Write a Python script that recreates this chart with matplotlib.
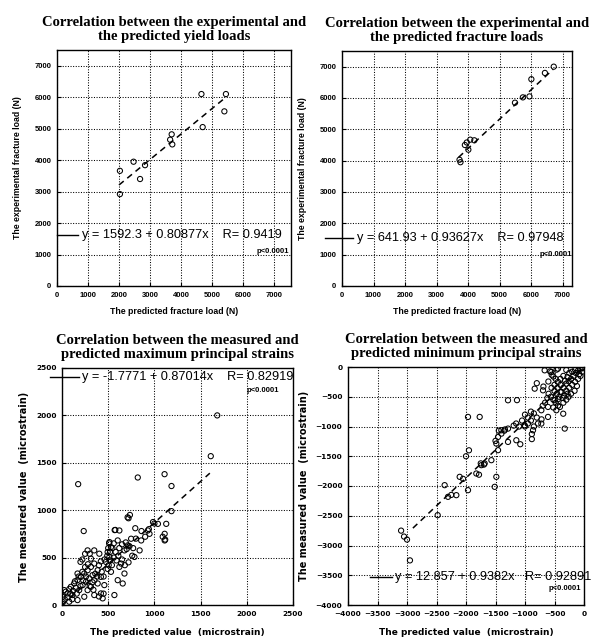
import matplotlib
matplotlib.use("Agg")
import matplotlib.pyplot as plt
from matplotlib.lines import Line2D
from matplotlib.font_manager import FontProperties

W, H = 591, 639

# ---- data ----
# yield loads (N)
yield_pred = [2030, 2030, 2470, 2680, 2840, 3700, 3720, 3650, 4660, 4700, 5450, 5400]
yield_exp = [3660, 2920, 3950, 3400, 3840, 4820, 4500, 4650, 6100, 5050, 6100, 5550]
yield_fit = (1592.3, 0.80877)

# fracture loads (N)
frac_pred = [3730, 3760, 3960, 4010, 4070, 4200, 3900, 5490, 5740, 5950, 6010, 6440, 6720]
frac_exp = [4030, 3950, 4580, 4350, 4670, 4650, 4500, 5850, 6020, 6050, 6600, 6800, 7000]
frac_fit = (641.93, 0.93627)

# maximum principal strains (microstrain)
max_pred = [1680, 1610, 1110, 820, 175, 1185, 1185, 710, 985, 1038, 1128, 929, 1111, 1111,
            947, 857, 840, 784, 748, 712, 676, 603, 570, 621, 235, 513, 530, 494, 513, 476,
            621, 639, 676, 603, 657, 567, 440, 458, 421, 386, 349, 277, 313, 200, 404,
            24, 60, 96, 132, 168, 205, 241, 277, 313, 349, 223, 259, 295, 331, 186, 114, 5,
            168, 277, 313, 386, 421, 241, 168, 78, 349,
            500, 510, 490, 520, 505, 495, 530, 560, 580, 620, 650, 690, 700, 730, 770, 800,
            900, 940, 1000, 1090, 1117, 860, 720, 735, 577, 793, 450, 430, 380, 350, 330, 260,
            230, 200, 150, 120, 90, 60, 30, 10, 40, 80, 110, 140, 160, 180, 220, 250, 280, 300,
            340, 360, 400, 420, 460, 540, 590, 610, 650, 680, 720, 760, 450, 400, 520, 545, 560,
            250, 300, 220]
max_meas = [2000, 1570, 1380, 1345, 1275, 1255, 990, 925, 875, 856, 856, 786, 751, 681,
            751, 681, 576, 507, 699, 629, 576, 681, 790, 786, 780, 664, 611, 559, 507, 454,
            402, 437, 332, 262, 227, 105, 70, 210, 297, 367, 576, 576, 489, 455, 541,
            157, 122, 192, 227, 262, 297, 332, 367, 402, 437, 210, 245, 280, 315, 157, 105, 87,
            332, 157, 192, 227, 122, 87, 52, 35, 105,
            600, 650, 520, 470, 420, 380, 350, 500, 560, 600, 640, 660, 590, 620, 600, 700,
            720, 800, 860, 720, 690, 780, 915, 950, 792, 810, 300, 350, 300, 260, 240, 300,
            260, 200, 180, 150, 120, 80, 60, 30, 140, 170, 60, 250, 120, 300, 350, 400, 430, 200,
            160, 330, 420, 460, 480, 420, 470, 520, 480, 420, 450, 520, 120, 90, 560, 600, 650,
            540, 540, 480]
max_fit = (-1.7771, 0.87014)

# minimum principal strains (microstrain)
min_pred = [-3100, -3050, -3000, -2950, -2480, -2305, -2250, -2164, -2362, -1966, -2107, -2050,
            -1825, -1780, -1684, -1740, -1570, -1486, -1514, -1457, -1486, -1457, -1401, -1340,
            -1288, -1288, -1147, -1966, -1768, -2000, -1950, -1288,
            -1136, -1006, -950, -864, -884, -884, -723, -610, -723, -610, -497, -327, -469, -408,
            -352, -836, -800, -688, -695,
            -1192, -1444, -1400, -1350, -1500, -1080, -1696, -1750,
            -1000, -950, -900, -1050, -850, -800, -780, -720, -900, -1100, -1150, -1000, -850,
            -667, -554, -441, -604, -548, -576, -464, -300, -520, -480, -440, -400, -350, -300,
            -260, -220, -180, -140, -100, -60, -500, -460, -420, -380, -340, -300, -520, -480,
            -440, -250, -200, -150, -100, -120, -60, -30, -20, -80, -160, -220, -260, -300, -350,
            -400, -350, -250, -200, -150, -550, -500, -450, -400, -320, -280, -600, -560, -620,
            -660, -700, -520, -440, -360, -280]
min_meas = [-2750, -2850, -2900, -3250, -2490, -2182, -2150, -2154, -1986, -2070, -1846, -1880,
            -1790, -1810, -1622, -1650, -1566, -1846, -2014, -1398, -1287, -1175, -1063, -1050,
            -1035, -1259, -1231, -839, -839, -1500, -1400, -559,
            -557, -979, -950, -1063, -1127, -1212, -951, -839, -727, -671, -559, -1035, -727, -671,
            -785, -364, -272, -329, -392,
            -985, -1070, -1120, -1070, -1241, -1298, -1640, -1620,
            -800, -850, -900, -900, -780, -850, -950, -880, -750, -1000, -950, -1000, -1000,
            -56, -84, -28, -244, -130, -73, -44, -50, -160, -200, -250, -300, -350, -280,
            -240, -200, -150, -100, -60, -30, -400, -450, -500, -420, -480, -400, -550, -600,
            -650, -350, -300, -250, -200, -320, -150, -80, -20, -120, -400, -450, -500, -550, -600,
            -200, -150, -100, -80, -50, -350, -300, -350, -420, -230, -170, -450, -500, -520,
            -600, -650, -680, -540, -520, -450]
min_fit = (12.857, 0.9382)

panels = [
    dict(rect=(57, 50, 291, 286), x=yield_pred, y=yield_exp, fit=yield_fit, fitx=(2000, 5400),
         xlim=(0, 7550), ylim=(0, 7500), ticks=range(0, 7001, 1000),
         title="Correlation between the experimental and\nthe predicted yield loads",
         xlabel="The predicted fracture load (N)", ylabel="The experimental fracture load (N)",
         eq="y = 1592.3 + 0.80877x    R= 0.9419", eqy=235, eqline=(57, 78), eqx=82, py=252, pr=289),
    dict(rect=(342, 51, 572, 286), x=frac_pred, y=frac_exp, fit=frac_fit, fitx=(3700, 6700),
         xlim=(0, 7300), ylim=(0, 7500), ticks=range(0, 7001, 1000),
         title="Correlation between the experimental and\nthe predicted fracture loads",
         xlabel="The predicted fracture load (N)", ylabel="The experimental fracture load (N)",
         eq="y = 641.93 + 0.93627x    R= 0.97948", eqy=238, eqline=(325, 353), eqx=357, py=254, pr=572),
    dict(rect=(62, 368, 293, 605), x=max_pred, y=max_meas, fit=max_fit, fitx=(0, 1600),
         xlim=(0, 2500), ylim=(0, 2500), ticks=range(0, 2501, 500),
         title="Correlation between the measured and\npredicted maximum principal strains",
         xlabel="The predicted value  (microstrain)", ylabel="The measured value  (microstrain)",
         eq="y = -1.7771 + 0.87014x    R= 0.82919", eqy=377, eqline=(50, 79), eqx=82, py=391, pr=279),
    dict(rect=(348, 367, 584, 605), x=min_pred, y=min_meas, fit=min_fit, fitx=(-2900, 0),
         xlim=(-4000, 0), ylim=(-4000, 0), ticks=range(-4000, 1, 500),
         title="Correlation between the measured and\npredicted minimum principal strains",
         xlabel="The predicted value  (microstrain)", ylabel="The measured value  (microstrain)",
         eq="y = 12.857 + 0.9382x   R= 0.92891", eqy=577, eqline=(370, 392), eqx=395, py=589, pr=581),
]

fig = plt.figure(figsize=(W / 100, H / 100), dpi=100)

for i, p in enumerate(panels):
    l, t, r, b = p["rect"]
    ax = fig.add_axes([l / W, 1 - b / H, (r - l) / W, (b - t) / H])
    ax.scatter(p["x"], p["y"], s=14, facecolors="none", edgecolors="black", linewidths=0.75, zorder=3)
    a, k = p["fit"]
    fx = list(p["fitx"])
    ax.plot(fx, [a + k * v for v in fx], color="black", lw=1.1, ls=(0, (4, 3)), zorder=4)
    ax.set_xlim(p["xlim"])
    ax.set_ylim(p["ylim"])
    ax.set_xticks(list(p["ticks"]))
    ax.set_yticks(list(p["ticks"]))
    ax.grid(True, color="black", ls=(0, (1, 1.5)), lw=0.75)
    ax.tick_params(direction="in", length=3, width=0.8, pad=4)
    for s in ax.spines.values():
        s.set_linewidth(1.0)
        s.set_color("black")
    if i < 2:
        tick_font = dict(family="Liberation Sans", weight="bold", size=5.5)
        ax.set_xlabel(p["xlabel"], labelpad=6, family="Liberation Sans", weight="bold", size=6.3)
        ax.set_ylabel(p["ylabel"], labelpad=9, family="Liberation Sans", weight="bold", size=6.3)
    else:
        tick_font = dict(family="DejaVu Sans", weight="bold", size=5.3)
        ax.set_xlabel(p["xlabel"], labelpad=8, family="DejaVu Sans", weight="bold", size=6.5)
        ax.set_ylabel(p["ylabel"], labelpad=5, family="DejaVu Sans", weight="bold", size=7)
    for lab in ax.get_xticklabels() + ax.get_yticklabels():
        lab.set_fontproperties(FontProperties(**tick_font))
    ax.set_title(p["title"], family="Liberation Serif", weight="bold", size=10.5, pad=7,
                 linespacing=1.1)

    # fit legend text
    y0 = 1 - p["eqy"] / H
    x0, x1 = p["eqline"]
    fig.add_artist(Line2D([x0 / W, x1 / W], [y0, y0], color="black", lw=1.0))
    fig.text(p["eqx"] / W, y0, p["eq"], family="Liberation Sans", size=9.2, va="center", ha="left")
    fig.text(p["pr"] / W, 1 - p["py"] / H, "p<0.0001", family="Liberation Sans", weight="bold",
             size=5.5, va="center", ha="right")

fig.savefig("out.png", dpi=100)
